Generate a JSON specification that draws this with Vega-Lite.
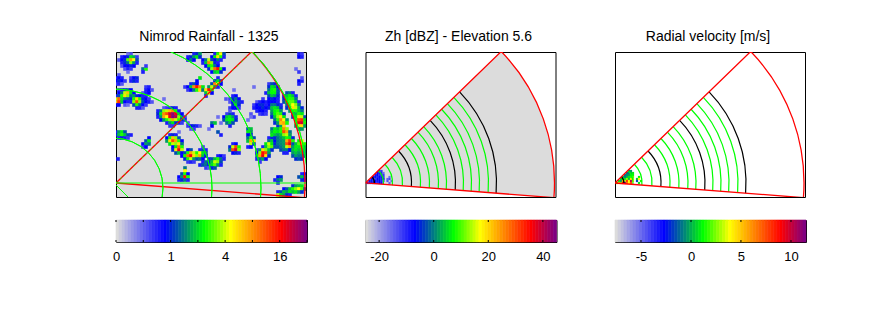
{"background":"white","padding":{"left":111,"top":29,"right":70,"bottom":50},"bounds":"flush","spacing":249.5,
"config":{"view":{"stroke":"black","strokeWidth":1},"font":"Liberation Sans","title":{"font":"Liberation Sans","fontSize":14,"fontWeight":"normal","color":"#000","offset":8,"dx":-2},"axis":{"labelFont":"Liberation Sans","labelFontSize":13,"labelColor":"#000","labelOverlap":false,"labelFlush":false}},
"datasets":{
"bar":[{"i":0,"j":1},{"i":1,"j":2},{"i":2,"j":3},{"i":3,"j":4},{"i":4,"j":5},{"i":5,"j":6},{"i":6,"j":7},{"i":7,"j":8},{"i":8,"j":9},{"i":9,"j":10},{"i":10,"j":11},{"i":11,"j":12},{"i":12,"j":13},{"i":13,"j":14},{"i":14,"j":15},{"i":15,"j":16},{"i":16,"j":17},{"i":17,"j":18},{"i":18,"j":19},{"i":19,"j":20},{"i":20,"j":21},{"i":21,"j":22},{"i":22,"j":23},{"i":23,"j":24},{"i":24,"j":25},{"i":25,"j":26},{"i":26,"j":27},{"i":27,"j":28},{"i":28,"j":29},{"i":29,"j":30},{"i":30,"j":31},{"i":31,"j":32},{"i":32,"j":33},{"i":33,"j":34},{"i":34,"j":35},{"i":35,"j":36},{"i":36,"j":37},{"i":37,"j":38},{"i":38,"j":39},{"i":39,"j":40},{"i":40,"j":41},{"i":41,"j":42},{"i":42,"j":43},{"i":43,"j":44},{"i":44,"j":45},{"i":45,"j":46},{"i":46,"j":47},{"i":47,"j":48},{"i":48,"j":49},{"i":49,"j":50},{"i":50,"j":51},{"i":51,"j":52},{"i":52,"j":53},{"i":53,"j":54},{"i":54,"j":55},{"i":55,"j":56},{"i":56,"j":57},{"i":57,"j":58},{"i":58,"j":59},{"i":59,"j":60},{"i":60,"j":61},{"i":61,"j":62},{"i":62,"j":63},{"i":63,"j":64}],
"t1":[{"t":0},{"t":9.14},{"t":18.29},{"t":27.43},{"t":36.57},{"t":45.71},{"t":54.86},{"t":64}],
"t2":[{"t":4.57},{"t":22.86},{"t":41.14},{"t":59.43}],
"t3":[{"t":8.71},{"t":25.47},{"t":42.2},{"t":58.97}],
"sector":[{"ox":0,"oy":0,"r0":0,"r":189,"a0":45.9,"a1":94.45}],
"rings":[{"ox":0,"oy":0,"r":9,"a0":45.9,"a1":94.45,"k":"major"},{"ox":0,"oy":0,"r":18,"a0":45.9,"a1":94.45,"k":"minor"},{"ox":0,"oy":0,"r":27,"a0":45.9,"a1":94.45,"k":"minor"},{"ox":0,"oy":0,"r":37,"a0":45.9,"a1":94.45,"k":"minor"},{"ox":0,"oy":0,"r":46,"a0":45.9,"a1":94.45,"k":"major"},{"ox":0,"oy":0,"r":55,"a0":45.9,"a1":94.45,"k":"minor"},{"ox":0,"oy":0,"r":64,"a0":45.9,"a1":94.45,"k":"minor"},{"ox":0,"oy":0,"r":73,"a0":45.9,"a1":94.45,"k":"minor"},{"ox":0,"oy":0,"r":81,"a0":45.9,"a1":94.45,"k":"minor"},{"ox":0,"oy":0,"r":90,"a0":45.9,"a1":94.45,"k":"major"},{"ox":0,"oy":0,"r":98,"a0":45.9,"a1":94.45,"k":"minor"},{"ox":0,"oy":0,"r":106,"a0":45.9,"a1":94.45,"k":"minor"},{"ox":0,"oy":0,"r":114,"a0":45.9,"a1":94.45,"k":"minor"},{"ox":0,"oy":0,"r":123,"a0":45.9,"a1":94.45,"k":"minor"},{"ox":0,"oy":0,"r":131,"a0":45.9,"a1":94.45,"k":"major"}],
"rainrings":[{"ox":-3,"oy":-5,"r":50,"a0":0,"a1":180},{"ox":-3,"oy":-5,"r":99,"a0":0,"a1":180},{"ox":-3,"oy":-5,"r":148,"a0":0,"a1":180},{"ox":-3,"oy":-5,"r":195,"a0":0,"a1":180}],
"rainlines":[{"x":0,"y":0,"x2":190,"y2":0},{"x":0,"y":-2,"x2":12,"y2":-14}],
"diag":[{"x":0,"y":0,"x2":135.7,"y2":131}],
"zcells":[{"x":14,"y":12,"v":14},{"x":16,"y":12,"v":12},{"x":12,"y":10,"v":16},{"x":14,"y":10,"v":15},{"x":16,"y":10,"v":14},{"x":18,"y":10,"v":8},{"x":10,"y":8,"v":15},{"x":12,"y":8,"v":16},{"x":14,"y":8,"v":13},{"x":16,"y":8,"v":15},{"x":18,"y":8,"v":12},{"x":8,"y":6,"v":16},{"x":10,"y":6,"v":17},{"x":12,"y":6,"v":14},{"x":14,"y":6,"v":16},{"x":16,"y":6,"v":15},{"x":18,"y":6,"v":12},{"x":24,"y":6,"v":8},{"x":6,"y":4,"v":15},{"x":8,"y":4,"v":16},{"x":10,"y":4,"v":12},{"x":12,"y":4,"v":16},{"x":14,"y":4,"v":17},{"x":16,"y":4,"v":14},{"x":18,"y":4,"v":16},{"x":22,"y":4,"v":9},{"x":24,"y":4,"v":11},{"x":4,"y":2,"v":16},{"x":6,"y":2,"v":17},{"x":8,"y":2,"v":14},{"x":10,"y":2,"v":16},{"x":12,"y":2,"v":15},{"x":14,"y":2,"v":16},{"x":16,"y":2,"v":14},{"x":18,"y":2,"v":10},{"x":22,"y":2,"v":10},{"x":26,"y":2,"v":8},{"x":2,"y":0,"v":14},{"x":4,"y":0,"v":15},{"x":6,"y":0,"v":16},{"x":8,"y":0,"v":17},{"x":10,"y":0,"v":15},{"x":12,"y":0,"v":13},{"x":14,"y":0,"v":16},{"x":16,"y":0,"v":15},{"x":24,"y":0,"v":9}],
"vcells":[{"x":14,"y":12,"v":22},{"x":16,"y":12,"v":24},{"x":12,"y":10,"v":22},{"x":14,"y":10,"v":21},{"x":16,"y":10,"v":26},{"x":18,"y":10,"v":28},{"x":10,"y":8,"v":22},{"x":12,"y":8,"v":23},{"x":14,"y":8,"v":24},{"x":16,"y":8,"v":27},{"x":18,"y":8,"v":29},{"x":8,"y":6,"v":26},{"x":10,"y":6,"v":22},{"x":12,"y":6,"v":25},{"x":14,"y":6,"v":28},{"x":16,"y":6,"v":30},{"x":18,"y":6,"v":32},{"x":24,"y":6,"v":29},{"x":6,"y":4,"v":27},{"x":8,"y":4,"v":30},{"x":10,"y":4,"v":28},{"x":12,"y":4,"v":34},{"x":14,"y":4,"v":26},{"x":16,"y":4,"v":40},{"x":18,"y":4,"v":34},{"x":22,"y":4,"v":26},{"x":24,"y":4,"v":38},{"x":4,"y":2,"v":28},{"x":6,"y":2,"v":24},{"x":8,"y":2,"v":44},{"x":10,"y":2,"v":36},{"x":12,"y":2,"v":52},{"x":14,"y":2,"v":38},{"x":16,"y":2,"v":60},{"x":18,"y":2,"v":40},{"x":22,"y":2,"v":20},{"x":26,"y":2,"v":30},{"x":2,"y":0,"v":29},{"x":4,"y":0,"v":40},{"x":6,"y":0,"v":34},{"x":8,"y":0,"v":55},{"x":10,"y":0,"v":62},{"x":12,"y":0,"v":48},{"x":14,"y":0,"v":38},{"x":16,"y":0,"v":50},{"x":24,"y":0,"v":28}],
"raincells":[
{"x":12,"y":129,"v":8},{"x":15,"y":129,"v":10},{"x":6,"y":126,"v":14},{"x":9,"y":126,"v":16},{"x":12,"y":126,"v":18},{"x":15,"y":126,"v":28},{"x":18,"y":126,"v":25},{"x":21,"y":126,"v":12},{"x":3,"y":123,"v":10},{"x":6,"y":123,"v":16},{"x":9,"y":123,"v":18},{"x":12,"y":123,"v":32},{"x":15,"y":123,"v":44},{"x":18,"y":123,"v":38},{"x":21,"y":123,"v":20},{"x":6,"y":120,"v":14},{"x":9,"y":120,"v":18},{"x":12,"y":120,"v":22},{"x":15,"y":120,"v":34},{"x":18,"y":120,"v":24},{"x":21,"y":120,"v":14},{"x":6,"y":117,"v":10},{"x":9,"y":117,"v":16},{"x":12,"y":117,"v":16},{"x":15,"y":117,"v":18},{"x":18,"y":117,"v":16},{"x":9,"y":114,"v":10},{"x":12,"y":114,"v":14},{"x":15,"y":114,"v":12},{"x":12,"y":111,"v":8},
{"x":27,"y":114,"v":22},{"x":30,"y":114,"v":30},{"x":27,"y":111,"v":14},{"x":30,"y":117,"v":12},
{"x":3,"y":108,"v":10},{"x":0,"y":105,"v":14},{"x":3,"y":105,"v":16},{"x":6,"y":105,"v":14},{"x":15,"y":105,"v":12},{"x":18,"y":105,"v":16},{"x":21,"y":105,"v":18},{"x":0,"y":102,"v":16},{"x":3,"y":102,"v":18},{"x":6,"y":102,"v":16},{"x":9,"y":102,"v":12},{"x":15,"y":102,"v":14},{"x":18,"y":102,"v":18},{"x":21,"y":102,"v":14},{"x":0,"y":99,"v":12},{"x":3,"y":99,"v":14},{"x":6,"y":99,"v":10},
{"x":30,"y":96,"v":12},{"x":33,"y":96,"v":14},{"x":3,"y":93,"v":12},{"x":6,"y":93,"v":14},{"x":9,"y":93,"v":18},{"x":12,"y":93,"v":20},{"x":15,"y":93,"v":16},{"x":30,"y":93,"v":14},{"x":33,"y":93,"v":16},{"x":36,"y":93,"v":10},{"x":3,"y":90,"v":16},{"x":6,"y":90,"v":22},{"x":9,"y":90,"v":36},{"x":12,"y":90,"v":42},{"x":15,"y":90,"v":28},{"x":18,"y":90,"v":16},{"x":27,"y":90,"v":10},{"x":30,"y":90,"v":14},{"x":33,"y":90,"v":16},{"x":0,"y":87,"v":14},{"x":3,"y":87,"v":20},{"x":6,"y":87,"v":30},{"x":9,"y":87,"v":40},{"x":12,"y":87,"v":34},{"x":15,"y":87,"v":22},{"x":18,"y":87,"v":24},{"x":21,"y":87,"v":18},{"x":24,"y":87,"v":16},{"x":27,"y":87,"v":14},{"x":30,"y":87,"v":14},{"x":0,"y":84,"v":36},{"x":3,"y":84,"v":48},{"x":6,"y":84,"v":28},{"x":9,"y":84,"v":22},{"x":12,"y":84,"v":20},{"x":15,"y":84,"v":18},{"x":18,"y":84,"v":30},{"x":21,"y":84,"v":40},{"x":24,"y":84,"v":30},{"x":27,"y":84,"v":18},{"x":30,"y":84,"v":16},{"x":33,"y":84,"v":12},{"x":0,"y":81,"v":42},{"x":3,"y":81,"v":52},{"x":6,"y":81,"v":26},{"x":9,"y":81,"v":16},{"x":12,"y":81,"v":14},{"x":15,"y":81,"v":14},{"x":18,"y":81,"v":34},{"x":21,"y":81,"v":50},{"x":24,"y":81,"v":34},{"x":27,"y":81,"v":20},{"x":30,"y":81,"v":16},{"x":33,"y":81,"v":14},{"x":36,"y":81,"v":10},{"x":0,"y":78,"v":16},{"x":3,"y":78,"v":16},{"x":9,"y":78,"v":10},{"x":12,"y":78,"v":8},{"x":18,"y":78,"v":20},{"x":21,"y":78,"v":30},{"x":24,"y":78,"v":22},{"x":27,"y":78,"v":16},{"x":30,"y":78,"v":12},{"x":21,"y":75,"v":14},{"x":24,"y":75,"v":14},{"x":27,"y":75,"v":10},
{"x":48,"y":75,"v":10},{"x":51,"y":75,"v":12},{"x":54,"y":75,"v":14},{"x":57,"y":75,"v":18},{"x":60,"y":75,"v":14},{"x":42,"y":72,"v":14},{"x":45,"y":72,"v":22},{"x":48,"y":72,"v":34},{"x":51,"y":72,"v":36},{"x":54,"y":72,"v":42},{"x":57,"y":72,"v":46},{"x":60,"y":72,"v":30},{"x":63,"y":72,"v":14},{"x":42,"y":69,"v":18},{"x":45,"y":69,"v":28},{"x":48,"y":69,"v":46},{"x":51,"y":69,"v":50},{"x":54,"y":69,"v":58},{"x":57,"y":69,"v":62},{"x":60,"y":69,"v":56},{"x":63,"y":69,"v":24},{"x":66,"y":69,"v":16},{"x":42,"y":66,"v":14},{"x":45,"y":66,"v":24},{"x":48,"y":66,"v":44},{"x":51,"y":66,"v":38},{"x":54,"y":66,"v":56},{"x":57,"y":66,"v":63},{"x":60,"y":66,"v":60},{"x":63,"y":66,"v":34},{"x":66,"y":66,"v":20},{"x":69,"y":66,"v":12},{"x":45,"y":63,"v":16},{"x":48,"y":63,"v":24},{"x":51,"y":63,"v":30},{"x":54,"y":63,"v":34},{"x":57,"y":63,"v":44},{"x":60,"y":63,"v":36},{"x":63,"y":63,"v":30},{"x":66,"y":63,"v":18},{"x":69,"y":63,"v":14},{"x":51,"y":60,"v":14},{"x":54,"y":60,"v":24},{"x":57,"y":60,"v":28},{"x":60,"y":60,"v":18},{"x":63,"y":60,"v":14},{"x":66,"y":60,"v":12},{"x":72,"y":60,"v":10},{"x":54,"y":57,"v":12},{"x":57,"y":57,"v":12},{"x":72,"y":57,"v":12},{"x":75,"y":57,"v":16},{"x":78,"y":57,"v":18},{"x":81,"y":57,"v":14},{"x":84,"y":57,"v":10},{"x":75,"y":54,"v":10},{"x":78,"y":54,"v":12},
{"x":75,"y":99,"v":14},{"x":78,"y":99,"v":20},{"x":81,"y":99,"v":16},{"x":69,"y":96,"v":12},{"x":72,"y":96,"v":16},{"x":75,"y":96,"v":26},{"x":78,"y":96,"v":46},{"x":81,"y":96,"v":54},{"x":84,"y":96,"v":46},{"x":87,"y":96,"v":28},{"x":72,"y":93,"v":12},{"x":75,"y":93,"v":16},{"x":78,"y":93,"v":22},{"x":81,"y":93,"v":30},{"x":84,"y":93,"v":40},{"x":87,"y":93,"v":22},
{"x":78,"y":129,"v":14},{"x":81,"y":129,"v":18},{"x":84,"y":129,"v":24},{"x":72,"y":126,"v":14},{"x":75,"y":126,"v":18},{"x":78,"y":126,"v":24},{"x":81,"y":126,"v":28},{"x":84,"y":126,"v":18},{"x":72,"y":123,"v":16},{"x":75,"y":123,"v":22},{"x":78,"y":123,"v":16},
{"x":99,"y":129,"v":14},{"x":102,"y":129,"v":30},{"x":105,"y":129,"v":38},{"x":108,"y":129,"v":20},{"x":96,"y":126,"v":16},{"x":99,"y":126,"v":28},{"x":102,"y":126,"v":40},{"x":105,"y":126,"v":30},{"x":108,"y":126,"v":14},{"x":87,"y":123,"v":16},{"x":90,"y":123,"v":22},{"x":93,"y":123,"v":36},{"x":96,"y":123,"v":20},{"x":99,"y":123,"v":16},{"x":102,"y":123,"v":22},{"x":105,"y":123,"v":14},{"x":87,"y":120,"v":14},{"x":90,"y":120,"v":26},{"x":93,"y":120,"v":46},{"x":96,"y":120,"v":34},{"x":99,"y":120,"v":18},{"x":102,"y":120,"v":14},{"x":90,"y":117,"v":16},{"x":93,"y":117,"v":28},{"x":96,"y":117,"v":30},{"x":99,"y":117,"v":22},{"x":102,"y":117,"v":16},{"x":93,"y":114,"v":18},{"x":96,"y":114,"v":34},{"x":99,"y":114,"v":48},{"x":102,"y":114,"v":54},{"x":105,"y":114,"v":30},{"x":108,"y":114,"v":16},{"x":96,"y":111,"v":16},{"x":99,"y":111,"v":26},{"x":102,"y":111,"v":28},{"x":105,"y":111,"v":18},
{"x":102,"y":105,"v":14},{"x":84,"y":105,"v":28},{"x":81,"y":102,"v":16},{"x":99,"y":102,"v":16},{"x":102,"y":102,"v":28},{"x":105,"y":102,"v":20},{"x":96,"y":99,"v":20},{"x":99,"y":99,"v":46},{"x":102,"y":99,"v":38},{"x":105,"y":99,"v":16},{"x":93,"y":96,"v":24},{"x":96,"y":96,"v":36},{"x":99,"y":96,"v":24},{"x":102,"y":96,"v":14},{"x":90,"y":93,"v":40},{"x":93,"y":93,"v":54},{"x":96,"y":93,"v":30},{"x":90,"y":90,"v":26},{"x":93,"y":90,"v":36},{"x":96,"y":90,"v":16},{"x":90,"y":87,"v":14},
{"x":111,"y":69,"v":12},{"x":114,"y":69,"v":20},{"x":117,"y":69,"v":14},{"x":108,"y":66,"v":16},{"x":111,"y":66,"v":26},{"x":114,"y":66,"v":28},{"x":117,"y":66,"v":24},{"x":120,"y":66,"v":14},{"x":108,"y":63,"v":20},{"x":111,"y":63,"v":28},{"x":114,"y":63,"v":29},{"x":117,"y":63,"v":28},{"x":120,"y":63,"v":18},{"x":111,"y":60,"v":22},{"x":114,"y":60,"v":26},{"x":117,"y":60,"v":20},{"x":114,"y":57,"v":14},
{"x":117,"y":87,"v":14},{"x":120,"y":87,"v":16},{"x":114,"y":84,"v":12},{"x":117,"y":84,"v":18},{"x":120,"y":84,"v":22},{"x":123,"y":84,"v":16},{"x":114,"y":81,"v":10},{"x":117,"y":81,"v":16},{"x":120,"y":81,"v":24},{"x":123,"y":81,"v":20},{"x":126,"y":81,"v":14},{"x":117,"y":78,"v":18},{"x":120,"y":78,"v":26},{"x":123,"y":78,"v":18},{"x":114,"y":75,"v":12},{"x":117,"y":75,"v":16},{"x":120,"y":75,"v":16},{"x":123,"y":75,"v":12},{"x":114,"y":72,"v":10},
{"x":96,"y":60,"v":22},{"x":99,"y":60,"v":26},{"x":96,"y":57,"v":16},{"x":102,"y":51,"v":20},{"x":105,"y":48,"v":14},
{"x":0,"y":51,"v":14},{"x":3,"y":51,"v":24},{"x":6,"y":51,"v":28},{"x":9,"y":51,"v":20},{"x":0,"y":48,"v":18},{"x":3,"y":48,"v":26},{"x":6,"y":48,"v":30},{"x":9,"y":48,"v":26},{"x":12,"y":48,"v":20},{"x":15,"y":48,"v":14},{"x":3,"y":45,"v":14},{"x":6,"y":45,"v":18},{"x":9,"y":45,"v":14},{"x":12,"y":45,"v":12},
{"x":33,"y":45,"v":16},{"x":30,"y":42,"v":20},{"x":33,"y":42,"v":28},{"x":27,"y":39,"v":16},{"x":30,"y":39,"v":24},{"x":33,"y":39,"v":22},{"x":27,"y":36,"v":12},{"x":30,"y":36,"v":16},
{"x":54,"y":48,"v":14},{"x":57,"y":48,"v":18},{"x":60,"y":48,"v":14},{"x":51,"y":45,"v":16},{"x":54,"y":45,"v":30},{"x":57,"y":45,"v":42},{"x":60,"y":45,"v":34},{"x":63,"y":45,"v":20},{"x":51,"y":42,"v":24},{"x":54,"y":42,"v":40},{"x":57,"y":42,"v":50},{"x":60,"y":42,"v":44},{"x":63,"y":42,"v":30},{"x":66,"y":42,"v":16},{"x":54,"y":39,"v":28},{"x":57,"y":39,"v":36},{"x":60,"y":39,"v":34},{"x":63,"y":39,"v":40},{"x":66,"y":39,"v":22},{"x":57,"y":36,"v":16},{"x":60,"y":36,"v":28},{"x":63,"y":36,"v":48},{"x":66,"y":36,"v":30},{"x":57,"y":33,"v":18},{"x":60,"y":33,"v":40},{"x":63,"y":33,"v":56},{"x":66,"y":33,"v":36},{"x":60,"y":30,"v":20},{"x":63,"y":30,"v":26},{"x":66,"y":30,"v":16},
{"x":72,"y":33,"v":16},{"x":75,"y":33,"v":20},{"x":84,"y":33,"v":14},{"x":87,"y":33,"v":20},{"x":90,"y":33,"v":14},{"x":66,"y":27,"v":16},{"x":69,"y":30,"v":20},{"x":72,"y":30,"v":30},{"x":75,"y":30,"v":44},{"x":78,"y":30,"v":36},{"x":81,"y":30,"v":30},{"x":84,"y":30,"v":38},{"x":87,"y":30,"v":28},{"x":90,"y":30,"v":22},{"x":69,"y":27,"v":30},{"x":72,"y":27,"v":48},{"x":75,"y":27,"v":56},{"x":78,"y":27,"v":40},{"x":81,"y":27,"v":34},{"x":84,"y":27,"v":44},{"x":87,"y":27,"v":26},{"x":90,"y":27,"v":16},{"x":69,"y":24,"v":18},{"x":72,"y":24,"v":30},{"x":75,"y":24,"v":36},{"x":78,"y":24,"v":24},{"x":81,"y":24,"v":20},{"x":84,"y":24,"v":22},{"x":87,"y":24,"v":16},{"x":72,"y":21,"v":12},{"x":75,"y":21,"v":14},{"x":78,"y":21,"v":12},{"x":87,"y":36,"v":12},
{"x":102,"y":27,"v":14},{"x":105,"y":27,"v":16},{"x":108,"y":27,"v":12},{"x":93,"y":24,"v":14},{"x":96,"y":24,"v":20},{"x":99,"y":24,"v":26},{"x":102,"y":24,"v":30},{"x":105,"y":24,"v":22},{"x":108,"y":24,"v":14},{"x":87,"y":21,"v":14},{"x":90,"y":21,"v":22},{"x":93,"y":21,"v":18},{"x":96,"y":21,"v":26},{"x":99,"y":21,"v":36},{"x":102,"y":21,"v":34},{"x":105,"y":21,"v":20},{"x":84,"y":18,"v":14},{"x":87,"y":18,"v":20},{"x":90,"y":18,"v":22},{"x":93,"y":18,"v":16},{"x":96,"y":18,"v":28},{"x":99,"y":18,"v":32},{"x":102,"y":18,"v":24},{"x":105,"y":18,"v":14},{"x":90,"y":15,"v":12},{"x":93,"y":15,"v":10},{"x":96,"y":15,"v":18},{"x":99,"y":15,"v":20},
{"x":69,"y":15,"v":22},{"x":69,"y":12,"v":38},{"x":66,"y":9,"v":20},{"x":69,"y":9,"v":30},{"x":72,"y":9,"v":16},{"x":63,"y":6,"v":16},{"x":66,"y":6,"v":24},{"x":69,"y":6,"v":54},{"x":72,"y":6,"v":30},{"x":63,"y":3,"v":14},{"x":66,"y":3,"v":18},{"x":69,"y":3,"v":22},{"x":72,"y":3,"v":14},
{"x":117,"y":39,"v":14},{"x":120,"y":39,"v":16},{"x":114,"y":36,"v":18},{"x":117,"y":36,"v":36},{"x":120,"y":36,"v":50},{"x":123,"y":36,"v":30},{"x":114,"y":33,"v":22},{"x":117,"y":33,"v":50},{"x":120,"y":33,"v":58},{"x":123,"y":33,"v":34},{"x":117,"y":30,"v":16},{"x":120,"y":30,"v":18},{"x":123,"y":30,"v":14},
{"x":132,"y":54,"v":20},{"x":135,"y":54,"v":26},{"x":132,"y":51,"v":28},{"x":135,"y":51,"v":24},{"x":132,"y":48,"v":16},{"x":135,"y":48,"v":18},{"x":132,"y":45,"v":22},{"x":135,"y":45,"v":30},{"x":138,"y":45,"v":20},{"x":132,"y":42,"v":26},{"x":135,"y":42,"v":44},{"x":138,"y":42,"v":40},{"x":135,"y":39,"v":36},{"x":138,"y":39,"v":20},{"x":132,"y":36,"v":14},{"x":135,"y":36,"v":16},
{"x":153,"y":45,"v":14},{"x":156,"y":45,"v":18},{"x":153,"y":42,"v":22},{"x":156,"y":42,"v":26},{"x":159,"y":42,"v":16},{"x":150,"y":39,"v":28},{"x":153,"y":39,"v":36},{"x":156,"y":39,"v":28},{"x":159,"y":39,"v":18},{"x":147,"y":36,"v":14},{"x":150,"y":36,"v":26},{"x":153,"y":36,"v":34},{"x":156,"y":36,"v":32},{"x":159,"y":36,"v":20},{"x":141,"y":33,"v":12},{"x":144,"y":33,"v":24},{"x":147,"y":33,"v":40},{"x":150,"y":33,"v":34},{"x":153,"y":33,"v":26},{"x":156,"y":33,"v":18},{"x":141,"y":30,"v":16},{"x":144,"y":30,"v":34},{"x":147,"y":30,"v":54},{"x":150,"y":30,"v":50},{"x":153,"y":30,"v":24},{"x":141,"y":27,"v":24},{"x":144,"y":27,"v":44},{"x":147,"y":27,"v":56},{"x":150,"y":27,"v":40},{"x":153,"y":27,"v":18},{"x":141,"y":24,"v":14},{"x":144,"y":24,"v":22},{"x":147,"y":24,"v":24},{"x":150,"y":24,"v":16},{"x":144,"y":21,"v":12},
{"x":162,"y":57,"v":18},{"x":165,"y":57,"v":24},{"x":168,"y":57,"v":40},{"x":156,"y":54,"v":22},{"x":159,"y":54,"v":28},{"x":162,"y":54,"v":26},{"x":165,"y":54,"v":30},{"x":168,"y":54,"v":46},{"x":171,"y":54,"v":34},{"x":156,"y":51,"v":26},{"x":159,"y":51,"v":29},{"x":162,"y":51,"v":28},{"x":165,"y":51,"v":30},{"x":168,"y":51,"v":50},{"x":171,"y":51,"v":44},{"x":174,"y":51,"v":22},{"x":156,"y":48,"v":28},{"x":159,"y":48,"v":26},{"x":162,"y":48,"v":24},{"x":165,"y":48,"v":26},{"x":168,"y":48,"v":34},{"x":171,"y":48,"v":36},{"x":174,"y":48,"v":24},{"x":159,"y":45,"v":18},{"x":162,"y":45,"v":22},{"x":165,"y":45,"v":24},{"x":168,"y":45,"v":26},{"x":171,"y":45,"v":30},{"x":174,"y":45,"v":28},{"x":177,"y":45,"v":18},{"x":162,"y":42,"v":22},{"x":165,"y":42,"v":23},{"x":168,"y":42,"v":24},{"x":171,"y":42,"v":44},{"x":174,"y":42,"v":52},{"x":177,"y":42,"v":30},{"x":162,"y":39,"v":22},{"x":165,"y":39,"v":23},{"x":168,"y":39,"v":24},{"x":171,"y":39,"v":50},{"x":174,"y":39,"v":56},{"x":177,"y":39,"v":34},{"x":162,"y":36,"v":20},{"x":165,"y":36,"v":22},{"x":168,"y":36,"v":24},{"x":171,"y":36,"v":36},{"x":174,"y":36,"v":44},{"x":177,"y":36,"v":22},{"x":165,"y":33,"v":20},{"x":168,"y":33,"v":22},{"x":171,"y":33,"v":22},{"x":174,"y":33,"v":18},{"x":168,"y":30,"v":14},{"x":171,"y":30,"v":14},
{"x":153,"y":99,"v":12},{"x":156,"y":99,"v":20},{"x":159,"y":99,"v":18},{"x":153,"y":96,"v":18},{"x":156,"y":96,"v":28},{"x":159,"y":96,"v":26},{"x":162,"y":96,"v":16},{"x":153,"y":93,"v":22},{"x":156,"y":93,"v":29},{"x":159,"y":93,"v":30},{"x":162,"y":93,"v":20},{"x":150,"y":90,"v":14},{"x":153,"y":90,"v":26},{"x":156,"y":90,"v":29},{"x":159,"y":90,"v":29},{"x":162,"y":90,"v":20},{"x":171,"y":90,"v":20},{"x":174,"y":90,"v":22},{"x":177,"y":90,"v":14},{"x":153,"y":87,"v":20},{"x":156,"y":87,"v":26},{"x":159,"y":87,"v":24},{"x":162,"y":87,"v":18},{"x":168,"y":87,"v":16},{"x":171,"y":87,"v":26},{"x":174,"y":87,"v":29},{"x":177,"y":87,"v":26},{"x":180,"y":87,"v":14},{"x":147,"y":84,"v":12},{"x":153,"y":84,"v":16},{"x":156,"y":84,"v":18},{"x":159,"y":84,"v":16},{"x":162,"y":84,"v":14},{"x":168,"y":84,"v":18},{"x":171,"y":84,"v":28},{"x":174,"y":84,"v":30},{"x":177,"y":84,"v":30},{"x":180,"y":84,"v":22},{"x":150,"y":81,"v":14},{"x":153,"y":81,"v":16},{"x":156,"y":81,"v":16},{"x":159,"y":81,"v":16},{"x":162,"y":81,"v":14},{"x":168,"y":81,"v":20},{"x":171,"y":81,"v":28},{"x":174,"y":81,"v":32},{"x":177,"y":81,"v":32},{"x":180,"y":81,"v":26},{"x":183,"y":81,"v":14},{"x":153,"y":78,"v":16},{"x":156,"y":78,"v":22},{"x":159,"y":78,"v":22},{"x":162,"y":78,"v":18},{"x":165,"y":78,"v":14},{"x":171,"y":78,"v":22},{"x":174,"y":78,"v":32},{"x":177,"y":78,"v":38},{"x":180,"y":78,"v":34},{"x":183,"y":78,"v":22},{"x":153,"y":75,"v":18},{"x":156,"y":75,"v":26},{"x":159,"y":75,"v":28},{"x":162,"y":75,"v":26},{"x":165,"y":75,"v":18},{"x":171,"y":75,"v":18},{"x":174,"y":75,"v":30},{"x":177,"y":75,"v":40},{"x":180,"y":75,"v":36},{"x":183,"y":75,"v":26},{"x":186,"y":75,"v":18},{"x":156,"y":72,"v":24},{"x":159,"y":72,"v":29},{"x":162,"y":72,"v":30},{"x":165,"y":72,"v":24},{"x":174,"y":72,"v":24},{"x":177,"y":72,"v":30},{"x":180,"y":72,"v":30},{"x":183,"y":72,"v":26},{"x":186,"y":72,"v":22},{"x":156,"y":69,"v":22},{"x":159,"y":69,"v":29},{"x":162,"y":69,"v":32},{"x":165,"y":69,"v":30},{"x":168,"y":69,"v":18},{"x":177,"y":69,"v":22},{"x":180,"y":69,"v":26},{"x":183,"y":69,"v":30},{"x":186,"y":69,"v":28},{"x":156,"y":66,"v":18},{"x":159,"y":66,"v":26},{"x":162,"y":66,"v":34},{"x":165,"y":66,"v":40},{"x":168,"y":66,"v":28},{"x":177,"y":66,"v":18},{"x":180,"y":66,"v":28},{"x":183,"y":66,"v":40},{"x":186,"y":66,"v":36},{"x":189,"y":66,"v":20},{"x":159,"y":63,"v":22},{"x":162,"y":63,"v":30},{"x":165,"y":63,"v":46},{"x":168,"y":63,"v":38},{"x":171,"y":63,"v":24},{"x":180,"y":63,"v":30},{"x":183,"y":63,"v":50},{"x":186,"y":63,"v":52},{"x":189,"y":63,"v":28},{"x":159,"y":60,"v":18},{"x":162,"y":60,"v":24},{"x":165,"y":60,"v":42},{"x":168,"y":60,"v":44},{"x":171,"y":60,"v":30},{"x":180,"y":60,"v":32},{"x":183,"y":60,"v":56},{"x":186,"y":60,"v":58},{"x":189,"y":60,"v":30},{"x":180,"y":57,"v":24},{"x":183,"y":57,"v":36},{"x":186,"y":57,"v":40},{"x":189,"y":57,"v":24},{"x":183,"y":54,"v":20},{"x":186,"y":54,"v":24},
{"x":141,"y":81,"v":10},{"x":144,"y":81,"v":14},{"x":147,"y":81,"v":16},{"x":138,"y":78,"v":12},{"x":141,"y":78,"v":16},{"x":144,"y":78,"v":18},{"x":147,"y":78,"v":18},{"x":150,"y":78,"v":14},{"x":138,"y":75,"v":14},{"x":141,"y":75,"v":16},{"x":144,"y":75,"v":16},{"x":147,"y":75,"v":18},{"x":150,"y":75,"v":16},{"x":141,"y":72,"v":14},{"x":144,"y":72,"v":16},{"x":147,"y":72,"v":16},{"x":150,"y":72,"v":14},{"x":144,"y":69,"v":12},{"x":147,"y":69,"v":14},{"x":150,"y":69,"v":12},{"x":135,"y":69,"v":10},{"x":138,"y":66,"v":12},{"x":135,"y":66,"v":8},{"x":132,"y":63,"v":8},
{"x":183,"y":42,"v":28},{"x":186,"y":42,"v":38},{"x":177,"y":39,"v":20},{"x":180,"y":39,"v":26},{"x":183,"y":39,"v":32},{"x":186,"y":39,"v":42},{"x":189,"y":39,"v":30},{"x":177,"y":36,"v":24},{"x":180,"y":36,"v":28},{"x":183,"y":36,"v":28},{"x":186,"y":36,"v":30},{"x":189,"y":36,"v":26},{"x":174,"y":33,"v":16},{"x":177,"y":33,"v":26},{"x":180,"y":33,"v":28},{"x":183,"y":33,"v":26},{"x":186,"y":33,"v":28},{"x":189,"y":33,"v":24},{"x":177,"y":30,"v":24},{"x":180,"y":30,"v":26},{"x":183,"y":30,"v":24},{"x":186,"y":30,"v":26},{"x":189,"y":30,"v":22},{"x":177,"y":27,"v":20},{"x":180,"y":27,"v":24},{"x":183,"y":27,"v":22},{"x":186,"y":27,"v":22},{"x":189,"y":27,"v":18},{"x":180,"y":24,"v":18},{"x":183,"y":24,"v":20},{"x":186,"y":24,"v":18},
{"x":183,"y":129,"v":14},{"x":186,"y":129,"v":12},{"x":183,"y":126,"v":16},{"x":186,"y":126,"v":14},{"x":180,"y":114,"v":8},{"x":183,"y":111,"v":12},{"x":183,"y":102,"v":16},{"x":186,"y":102,"v":14},{"x":183,"y":99,"v":14},{"x":186,"y":105,"v":10},
{"x":186,"y":9,"v":14},{"x":189,"y":9,"v":16},{"x":162,"y":6,"v":16},{"x":165,"y":6,"v":18},{"x":183,"y":6,"v":20},{"x":186,"y":6,"v":26},{"x":189,"y":6,"v":20},{"x":159,"y":3,"v":14},{"x":162,"y":3,"v":22},{"x":165,"y":3,"v":24},{"x":186,"y":3,"v":18},{"x":189,"y":3,"v":16},{"x":162,"y":0,"v":14},{"x":177,"y":-3,"v":18},{"x":180,"y":-3,"v":24},{"x":183,"y":-3,"v":26},{"x":186,"y":-3,"v":28},{"x":168,"y":-6,"v":16},{"x":171,"y":-6,"v":20},{"x":174,"y":-6,"v":26},{"x":177,"y":-6,"v":30},{"x":180,"y":-6,"v":34},{"x":183,"y":-6,"v":38},{"x":186,"y":-6,"v":32},{"x":189,"y":-6,"v":20},{"x":162,"y":-9,"v":14},{"x":165,"y":-9,"v":20},{"x":168,"y":-9,"v":26},{"x":171,"y":-9,"v":24},{"x":174,"y":-9,"v":28},{"x":177,"y":-9,"v":26},{"x":180,"y":-9,"v":28},{"x":183,"y":-9,"v":24},{"x":186,"y":-9,"v":18},{"x":162,"y":-12,"v":36},{"x":165,"y":-12,"v":28},{"x":168,"y":-12,"v":24},{"x":171,"y":-12,"v":18},{"x":174,"y":-12,"v":14},
{"x":48,"y":84,"v":8},{"x":93,"y":54,"v":8},{"x":63,"y":51,"v":8},{"x":105,"y":60,"v":8},{"x":102,"y":66,"v":8},{"x":138,"y":96,"v":8},{"x":110,"y":84,"v":10},{"x":118,"y":93,"v":8},{"x":2,"y":24,"v":14}
]},
"hconcat":[
{"bounds":"flush","spacing":23,"vconcat":[
{"width":190,"height":145,"title":"Nimrod Rainfall - 1325","view":{"fill":"#dcdcdc"},"layer":[
{"data":{"name":"raincells"},"mark":{"type":"rect","width":3.6,"height":3.6,"clip":true},"encoding":{"x":{"field":"x","type":"quantitative","axis":null,"scale":{"domain":[0,190],"nice":false,"zero":false}},"y":{"field":"y","type":"quantitative","axis":null,"scale":{"domain":[-14,131],"nice":false,"zero":false}},"color":{"field":"v","type":"quantitative","legend":null,"scale":{"domain":[0,16,29,38,55,63],"range":["#dcdcdc","#0000ff","#00ff00","#ffff00","#ff0000","#800080"],"interpolate":"rgb"}}}},
{"data":{"name":"sector"},"mark":{"type":"arc","clip":true,"fill":null,"stroke":"#ff0000","strokeWidth":1.3},"encoding":{"x":{"field":"ox","type":"quantitative"},"y":{"field":"oy","type":"quantitative"},"theta":{"field":"a0","type":"quantitative","stack":false,"scale":{"domain":[0,360]}},"theta2":{"field":"a1"},"radius":{"field":"r","type":"quantitative","scale":{"type":"linear","domain":[0,190],"range":[0,190]}},"radius2":{"field":"r0"}}},
{"data":{"name":"rainrings"},"mark":{"type":"arc","clip":true,"fill":null,"stroke":"#00ff00","strokeWidth":1},"encoding":{"x":{"field":"ox","type":"quantitative"},"y":{"field":"oy","type":"quantitative"},"theta":{"field":"a0","type":"quantitative","stack":false,"scale":{"domain":[0,360]}},"theta2":{"field":"a1"},"radius":{"field":"r","type":"quantitative","scale":{"type":"linear","domain":[0,190],"range":[0,190]}},"radius2":{"field":"r"}}},
{"data":{"name":"rainlines"},"mark":{"type":"rule","clip":true,"stroke":"#00ff00","strokeWidth":1},"encoding":{"x":{"field":"x","type":"quantitative"},"y":{"field":"y","type":"quantitative"},"x2":{"field":"x2"},"y2":{"field":"y2"}}},
{"data":{"name":"diag"},"mark":{"type":"rule","clip":true,"stroke":"#00ff00","strokeWidth":1,"strokeDash":[2,4]},"encoding":{"x":{"field":"x","type":"quantitative"},"y":{"field":"y","type":"quantitative"},"x2":{"field":"x2"},"y2":{"field":"y2"}}}
]},
{"width":191,"height":22,"layer":[
{"data":{"name":"bar"},"mark":{"type":"rect","strokeWidth":0.6},"encoding":{"x":{"field":"i","type":"quantitative","scale":{"domain":[0,64],"nice":false,"zero":false},"axis":{"title":null,"grid":false,"domain":false,"ticks":false,"labelOverlap":false,"values":[0,9.14,18.29,27.43,36.57,45.71,54.86,64],"labelPadding":8,"labelExpr":"['0','0.5','1','2','4','8','16','32'][round(datum.value/64*7)]"}},"x2":{"field":"j"},"color":{"field":"i","type":"quantitative","legend":null,"scale":{"domain":[0,16,29,38,55,63],"range":["#dcdcdc","#0000ff","#00ff00","#ffff00","#ff0000","#800080"],"interpolate":"rgb"}},"stroke":{"field":"i","type":"quantitative","legend":null,"scale":{"domain":[0,16,29,38,55,63],"range":["#dcdcdc","#0000ff","#00ff00","#ffff00","#ff0000","#800080"],"interpolate":"rgb"}}}},
{"data":{"name":"t1"},"mark":{"type":"rule","color":"#000"},"encoding":{"x":{"field":"t","type":"quantitative"},"y":{"value":0},"y2":{"value":2}}},
{"data":{"name":"t1"},"mark":{"type":"rule","color":"#000"},"encoding":{"x":{"field":"t","type":"quantitative"},"y":{"value":20},"y2":{"value":22}}}
]}
]},
{"bounds":"flush","spacing":23,"vconcat":[
{"width":190,"height":145,"title":"Zh [dBZ] - Elevation 5.6","layer":[
{"data":{"name":"sector"},"mark":{"type":"arc","clip":true,"fill":"#dcdcdc","stroke":null},"encoding":{"x":{"field":"ox","type":"quantitative","axis":null,"scale":{"domain":[0,190],"nice":false,"zero":false}},"y":{"field":"oy","type":"quantitative","axis":null,"scale":{"domain":[-14,131],"nice":false,"zero":false}},"theta":{"field":"a0","type":"quantitative","stack":false,"scale":{"domain":[0,360]}},"theta2":{"field":"a1"},"radius":{"field":"r","type":"quantitative","scale":{"type":"linear","domain":[0,190],"range":[0,190]}},"radius2":{"field":"r0"}}},
{"data":{"name":"zcells"},"mark":{"type":"rect","width":2.2,"height":2.2},"encoding":{"x":{"field":"x","type":"quantitative"},"y":{"field":"y","type":"quantitative"},"color":{"field":"v","type":"quantitative","legend":null,"scale":{"domain":[0,16,29,38,55,63],"range":["#dcdcdc","#0000ff","#00ff00","#ffff00","#ff0000","#800080"],"interpolate":"rgb"}}}},
{"data":{"name":"rings"},"mark":{"type":"arc","clip":true,"fill":null,"strokeWidth":1.2},"encoding":{"x":{"field":"ox","type":"quantitative"},"y":{"field":"oy","type":"quantitative"},"theta":{"field":"a0","type":"quantitative","stack":false,"scale":{"domain":[0,360]}},"theta2":{"field":"a1"},"radius":{"field":"r","type":"quantitative","scale":{"type":"linear","domain":[0,190],"range":[0,190]}},"radius2":{"field":"r"},"stroke":{"field":"k","type":"nominal","legend":null,"scale":{"domain":["major","minor"],"range":["#000000","#00ff00"]}}}},
{"data":{"name":"sector"},"mark":{"type":"arc","clip":true,"fill":null,"stroke":"#ff0000","strokeWidth":1.3},"encoding":{"x":{"field":"ox","type":"quantitative"},"y":{"field":"oy","type":"quantitative"},"theta":{"field":"a0","type":"quantitative","stack":false,"scale":{"domain":[0,360]}},"theta2":{"field":"a1"},"radius":{"field":"r","type":"quantitative","scale":{"type":"linear","domain":[0,190],"range":[0,190]}},"radius2":{"field":"r0"}}}
]},
{"width":191,"height":22,"layer":[
{"data":{"name":"bar"},"mark":{"type":"rect","strokeWidth":0.6},"encoding":{"x":{"field":"i","type":"quantitative","scale":{"domain":[0,64],"nice":false,"zero":false},"axis":{"title":null,"grid":false,"domain":false,"ticks":false,"labelOverlap":false,"values":[4.57,22.86,41.14,59.43],"labelPadding":8,"labelExpr":"round(datum.value*70/64-25)"}},"x2":{"field":"j"},"color":{"field":"i","type":"quantitative","legend":null,"scale":{"domain":[0,16,29,38,55,63],"range":["#dcdcdc","#0000ff","#00ff00","#ffff00","#ff0000","#800080"],"interpolate":"rgb"}},"stroke":{"field":"i","type":"quantitative","legend":null,"scale":{"domain":[0,16,29,38,55,63],"range":["#dcdcdc","#0000ff","#00ff00","#ffff00","#ff0000","#800080"],"interpolate":"rgb"}}}},
{"data":{"name":"t2"},"mark":{"type":"rule","color":"#000"},"encoding":{"x":{"field":"t","type":"quantitative"},"y":{"value":0},"y2":{"value":2}}},
{"data":{"name":"t2"},"mark":{"type":"rule","color":"#000"},"encoding":{"x":{"field":"t","type":"quantitative"},"y":{"value":20},"y2":{"value":22}}}
]}
]},
{"bounds":"flush","spacing":23,"vconcat":[
{"width":190,"height":145,"title":"Radial velocity [m/s]","layer":[
{"data":{"name":"vcells"},"mark":{"type":"rect","width":2.2,"height":2.2},"encoding":{"x":{"field":"x","type":"quantitative","axis":null,"scale":{"domain":[0,190],"nice":false,"zero":false}},"y":{"field":"y","type":"quantitative","axis":null,"scale":{"domain":[-14,131],"nice":false,"zero":false}},"color":{"field":"v","type":"quantitative","legend":null,"scale":{"domain":[0,16,29,38,55,63],"range":["#dcdcdc","#0000ff","#00ff00","#ffff00","#ff0000","#800080"],"interpolate":"rgb"}}}},
{"data":{"name":"rings"},"mark":{"type":"arc","clip":true,"fill":null,"strokeWidth":1.2},"encoding":{"x":{"field":"ox","type":"quantitative"},"y":{"field":"oy","type":"quantitative"},"theta":{"field":"a0","type":"quantitative","stack":false,"scale":{"domain":[0,360]}},"theta2":{"field":"a1"},"radius":{"field":"r","type":"quantitative","scale":{"type":"linear","domain":[0,190],"range":[0,190]}},"radius2":{"field":"r"},"stroke":{"field":"k","type":"nominal","legend":null,"scale":{"domain":["major","minor"],"range":["#000000","#00ff00"]}}}},
{"data":{"name":"sector"},"mark":{"type":"arc","clip":true,"fill":null,"stroke":"#ff0000","strokeWidth":1.3},"encoding":{"x":{"field":"ox","type":"quantitative"},"y":{"field":"oy","type":"quantitative"},"theta":{"field":"a0","type":"quantitative","stack":false,"scale":{"domain":[0,360]}},"theta2":{"field":"a1"},"radius":{"field":"r","type":"quantitative","scale":{"type":"linear","domain":[0,190],"range":[0,190]}},"radius2":{"field":"r0"}}}
]},
{"width":191,"height":22,"layer":[
{"data":{"name":"bar"},"mark":{"type":"rect","strokeWidth":0.6},"encoding":{"x":{"field":"i","type":"quantitative","scale":{"domain":[0,64],"nice":false,"zero":false},"axis":{"title":null,"grid":false,"domain":false,"ticks":false,"labelOverlap":false,"values":[8.71,25.47,42.2,58.97],"labelPadding":8,"labelExpr":"round(datum.value*19.1/64-7.6)"}},"x2":{"field":"j"},"color":{"field":"i","type":"quantitative","legend":null,"scale":{"domain":[0,16,29,38,55,63],"range":["#dcdcdc","#0000ff","#00ff00","#ffff00","#ff0000","#800080"],"interpolate":"rgb"}},"stroke":{"field":"i","type":"quantitative","legend":null,"scale":{"domain":[0,16,29,38,55,63],"range":["#dcdcdc","#0000ff","#00ff00","#ffff00","#ff0000","#800080"],"interpolate":"rgb"}}}},
{"data":{"name":"t3"},"mark":{"type":"rule","color":"#000"},"encoding":{"x":{"field":"t","type":"quantitative"},"y":{"value":0},"y2":{"value":2}}},
{"data":{"name":"t3"},"mark":{"type":"rule","color":"#000"},"encoding":{"x":{"field":"t","type":"quantitative"},"y":{"value":20},"y2":{"value":22}}}
]}
]}
]}
